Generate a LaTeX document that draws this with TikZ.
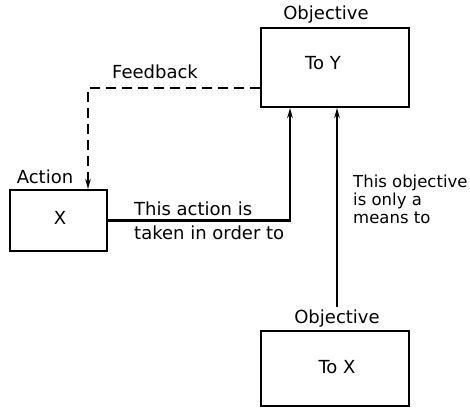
\documentclass[tikz,border=0pt]{standalone}
\usepackage{fontspec}
\setmainfont{DejaVu Sans}
\usetikzlibrary{arrows.meta}
\begin{document}
\begin{tikzpicture}[x=1pt,y=-1pt,
  box/.style={draw,line width=2pt,inner sep=0pt},
  lbl/.style={inner sep=0pt,font=\fontsize{18}{19}\selectfont},
  conn/.style={line width=2.6pt,-{Stealth[length=10pt,width=5.5pt]}},
  fb/.style={conn,dash pattern=on 10pt off 6pt}]
\useasboundingbox (0,0) rectangle (470,407);
% boxes
\node[box,minimum width=148pt,minimum height=79pt] (ty) at (335,67.5) {};
\node[box,minimum width=97pt,minimum height=61pt] (act) at (58.5,220.5) {};
\node[box,minimum width=148pt,minimum height=75pt] (tx) at (335,368.5) {};
% texts in boxes
\node[lbl] (tyt) at (323,63) {To Y};
\node[lbl] (actt) at (60,218) {X};
\node[lbl] (txt) at (337,367) {To X};
% labels
\node[lbl] (objtop) at (326,15) {Objective};
\node[lbl] (objbot) at (337,319) {Objective};
\node[lbl] (actlbl) at (45,177) {Action};
\node[lbl] (fblbl) at (155,72) {Feedback};
\node[lbl,anchor=west] (al1) at (134,209) {This action is};
\node[lbl,anchor=west] (al2) at (134,233) {taken in order to};
\node[lbl,anchor=north west,align=left,font=\fontsize{16.5}{18}\selectfont] (ml) at (353,175) {This objective\\is only a\\means to};
% connectors
\coordinate (fbs) at ([yshift=20pt]ty.south west);
\coordinate (fbc) at ([xshift=29.5pt]act.north);
\draw[fb] (fbs) -| (fbc);
\coordinate (aup) at ([xshift=-45pt]ty.south);
\draw[conn] (act.east) -| (aup);
\coordinate (mtop) at ([xshift=2pt]ty.south);
\coordinate (mbot) at ([yshift=3pt]objbot.north);
\draw[conn] (mbot) -- (mtop);
\end{tikzpicture}
\end{document}
